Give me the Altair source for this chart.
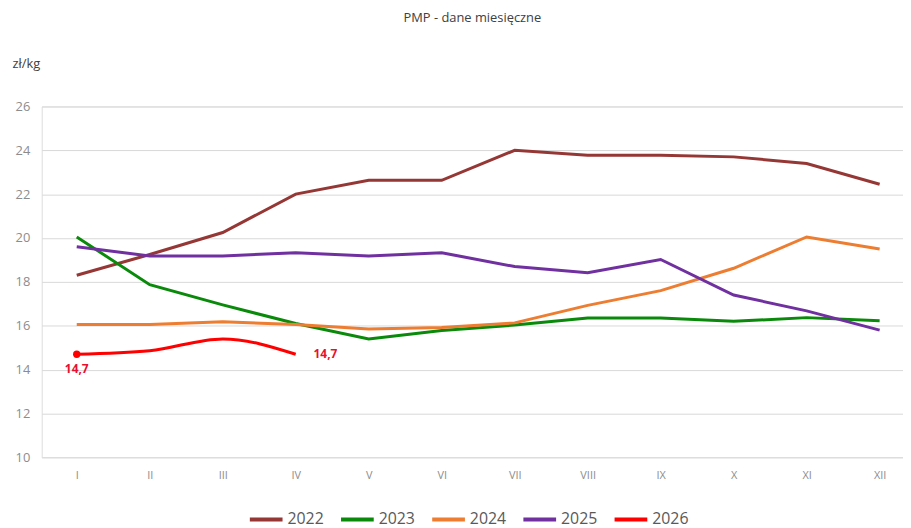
import altair as alt
import pandas as pd

months = ["I", "II", "III", "IV", "V", "VI", "VII", "VIII", "IX", "X", "XI", "XII"]
years = ["2022", "2023", "2024", "2025", "2026"]
v2022 = [18.3, 19.25, 20.25, 22.0, 22.63, 22.63, 24.0, 23.77, 23.77, 23.7, 23.4, 22.45]
v2023 = [20.05, 17.87, 16.95, 16.1, 15.4, 15.78, 16.03, 16.35, 16.35, 16.2, 16.37, 16.23]
v2024 = [16.06, 16.06, 16.18, 16.06, 15.85, 15.92, 16.13, 16.93, 17.6, 18.62, 20.05, 19.5]
v2025 = [19.6, 19.18, 19.18, 19.33, 19.18, 19.33, 18.7, 18.42, 19.02, 17.4, 16.68, 15.8]
v2026 = [14.7, 14.86, 15.4, 14.7]
colors = ["#953735", "#0A8A0A", "#ED7D31", "#7030A0", "#FF0000"]

series = [v2022, v2023, v2024, v2025, v2026]
rows = []
for yr, vals in zip(years, series):
    for m, v in zip(months, vals):
        rows.append({"month": m, "year": yr, "value": v})
df = pd.DataFrame(rows)

FONT = "Open Sans"

x = alt.X("month:O", sort=months, title=None,
          scale=alt.Scale(padding=0.4, align=0.6),
          axis=alt.Axis(labelAngle=0, ticks=False, domain=False, grid=False,
                        labelColor="#8c8c8c", labelFontSize=11, labelPadding=12, labelFont=FONT))
y = alt.Y("value:Q", scale=alt.Scale(domain=[10, 26], nice=False, zero=False),
          axis=alt.Axis(values=list(range(10, 27, 2)), ticks=False, domain=False,
                        gridColor="#d9d9d9", gridWidth=1, labelColor="#8c8c8c",
                        labelFontSize=13, labelPadding=12, labelFont=FONT,
                        title="zł/kg", titleAngle=0, titleAlign="left", titleBaseline="middle",
                        titleX=-30, titleY=-43, titleFontSize=13, titleFontWeight="normal",
                        titleColor="#404040", titleFont=FONT))
color = alt.Color("year:N", scale=alt.Scale(domain=years, range=colors),
                  legend=alt.Legend(title=None, orient="none", direction="horizontal",
                                    legendX=208, legendY=398, columns=5,
                                    symbolType="stroke", symbolSize=1089, symbolStrokeWidth=4,
                                    labelFontSize=16, labelColor="#595959", labelFont=FONT,
                                    labelOffset=3, columnPadding=9))

base = alt.Chart(df)
lines = base.mark_line(strokeWidth=3).encode(x=x, y=y, color=color).transform_filter(
    "datum.year != '2026'")
red = base.mark_line(strokeWidth=3, interpolate="monotone").encode(x=x, y=y, color=color).transform_filter(
    "datum.year == '2026'")

red_df = df[df.year == "2026"]
ann = alt.Chart(red_df).transform_calculate(
    lab="replace(format(datum.value, '.1f'), '.', ',')")
first = ann.transform_filter("datum.month == 'I'")
last = ann.transform_filter("datum.month == 'IV'")
pt = first.mark_circle(size=55, color="#FF0000", opacity=1).encode(x=x, y=y)
t1 = first.mark_text(dy=15, color="#E8112D", fontWeight="bold", fontSize=12, font=FONT).encode(
    x=x, y=y, text="lab:N")
t2 = last.mark_text(dx=18, align="left", color="#E8112D", fontWeight="bold", fontSize=12, font=FONT).encode(
    x=x, y=y, text="lab:N")

chart = alt.layer(lines, red, pt, t1, t2).properties(
    width=869, height=354,
    autosize=alt.AutoSizeParams(type="none"),
    padding={"left": 34, "top": 97, "right": 0, "bottom": 69},
    title=alt.Title("PMP - dane miesięczne", fontSize=13, fontWeight="normal",
                    color="#404040", font=FONT, offset=33),
).configure_view(stroke=None).configure(background="white")

chart.save("out.html", embed_options={"renderer": "svg", "actions": False})
